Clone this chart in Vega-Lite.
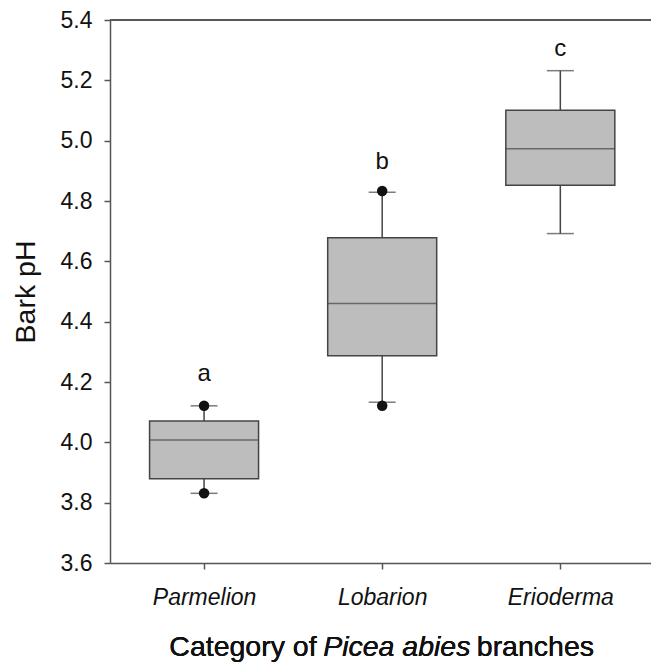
{
  "$schema": "https://vega.github.io/schema/vega-lite/v6.json",
  "autosize": {"type": "none"},
  "padding": {"left": 110, "top": 20, "right": 0, "bottom": 100},
  "width": 541,
  "height": 543,
  "background": "white",
  "config": {
    "view": {"stroke": null},
    "font": "Liberation Sans",
    "axis": {
      "grid": false,
      "domainColor": "#555555",
      "domainWidth": 1.5,
      "tickColor": "#555555",
      "tickWidth": 1.5,
      "tickSize": 6,
      "labelColor": "#111111",
      "labelFont": "Liberation Sans",
      "titleFont": "Liberation Sans",
      "titleColor": "#111111",
      "titleFontWeight": "normal"
    }
  },
  "datasets": {
    "boxes": [
      {"category": "Parmelion", "pos": 1, "lower": 3.831, "q1": 3.879, "median": 4.008, "q3": 4.071, "upper": 4.121, "letter": "a", "letter_y": 4.203},
      {"category": "Lobarion", "pos": 2, "lower": 4.133, "q1": 4.287, "median": 4.46, "q3": 4.678, "upper": 4.829, "letter": "b", "letter_y": 4.905},
      {"category": "Erioderma", "pos": 3, "lower": 4.692, "q1": 4.852, "median": 4.973, "q3": 5.101, "upper": 5.232, "letter": "c", "letter_y": 5.282}
    ],
    "points": [
      {"category": "Parmelion", "pos": 1, "pH": 4.121},
      {"category": "Parmelion", "pos": 1, "pH": 3.831},
      {"category": "Lobarion", "pos": 2, "pH": 4.833},
      {"category": "Lobarion", "pos": 2, "pH": 4.121}
    ]
  },
  "data": {"name": "boxes"},
  "layer": [
    {
      "mark": {"type": "rule", "color": "#444444", "strokeWidth": 1.5},
      "encoding": {
        "x": {
          "field": "pos", "type": "quantitative",
          "scale": {"domain": [0.5, 3.481], "nice": false, "zero": false},
          "axis": {
            "values": [1, 2, 3],
            "labelExpr": "datum.value == 1 ? 'Parmelion' : datum.value == 2 ? 'Lobarion' : 'Erioderma'",
            "labelFontStyle": "italic",
            "labelFontSize": 23,
            "labelPadding": 17,
            "title": null
          }
        },
        "y": {
          "field": "q3", "type": "quantitative",
          "scale": {"domain": [3.6, 5.4], "nice": false, "zero": false},
          "axis": {
            "values": [3.6, 3.8, 4.0, 4.2, 4.4, 4.6, 4.8, 5.0, 5.2, 5.4],
            "format": ".1f",
            "labelFontSize": 23,
            "labelPadding": 12,
            "title": "Bark pH",
            "titleFontSize": 28.5,
            "titlePadding": 20
          }
        },
        "y2": {"field": "upper"}
      }
    },
    {
      "mark": {"type": "rule", "color": "#444444", "strokeWidth": 1.5},
      "encoding": {
        "x": {"field": "pos", "type": "quantitative"},
        "y": {"field": "lower", "type": "quantitative"},
        "y2": {"field": "q1"}
      }
    },
    {
      "mark": {"type": "bar", "width": 109, "fill": "#bdbdbd", "stroke": "#444444", "strokeWidth": 1.5},
      "encoding": {
        "x": {"field": "pos", "type": "quantitative"},
        "y": {"field": "q1", "type": "quantitative"},
        "y2": {"field": "q3"}
      }
    },
    {
      "mark": {"type": "tick", "orient": "horizontal", "size": 109, "thickness": 1.5, "color": "#444444"},
      "encoding": {
        "x": {"field": "pos", "type": "quantitative"},
        "y": {"field": "median", "type": "quantitative"}
      }
    },
    {
      "mark": {"type": "tick", "orient": "horizontal", "size": 27, "thickness": 1.5, "color": "#444444"},
      "encoding": {
        "x": {"field": "pos", "type": "quantitative"},
        "y": {"field": "upper", "type": "quantitative"}
      }
    },
    {
      "mark": {"type": "tick", "orient": "horizontal", "size": 27, "thickness": 1.5, "color": "#444444"},
      "encoding": {
        "x": {"field": "pos", "type": "quantitative"},
        "y": {"field": "lower", "type": "quantitative"}
      }
    },
    {
      "data": {"name": "points"},
      "mark": {"type": "point", "filled": true, "size": 110, "color": "#111111", "opacity": 1},
      "encoding": {
        "x": {"field": "pos", "type": "quantitative"},
        "y": {"field": "pH", "type": "quantitative"}
      }
    },
    {
      "mark": {"type": "text", "fontSize": 24, "color": "#111111", "baseline": "alphabetic", "align": "center"},
      "encoding": {
        "x": {"field": "pos", "type": "quantitative"},
        "y": {"field": "letter_y", "type": "quantitative"},
        "text": {"field": "letter"}
      }
    },
    {
      "mark": {"type": "rule", "color": "#555555", "strokeWidth": 1.5},
      "encoding": {"y": {"datum": 5.4}}
    },
    {
      "mark": {"type": "text", "fontSize": 28.5, "color": "#111111", "baseline": "alphabetic", "align": "right"},
      "encoding": {"x": {"datum": 1.632}, "y": {"datum": 3.292}, "text": {"value": "Category of"}}
    },
    {
      "mark": {"type": "text", "fontSize": 28.5, "fontStyle": "italic", "color": "#111111", "baseline": "alphabetic", "align": "center"},
      "encoding": {"x": {"datum": 2.082}, "y": {"datum": 3.292}, "text": {"value": "Picea abies"}}
    },
    {
      "mark": {"type": "text", "fontSize": 28.5, "color": "#111111", "baseline": "alphabetic", "align": "left"},
      "encoding": {"x": {"datum": 2.531}, "y": {"datum": 3.292}, "text": {"value": "branches"}}
    }
  ]
}
